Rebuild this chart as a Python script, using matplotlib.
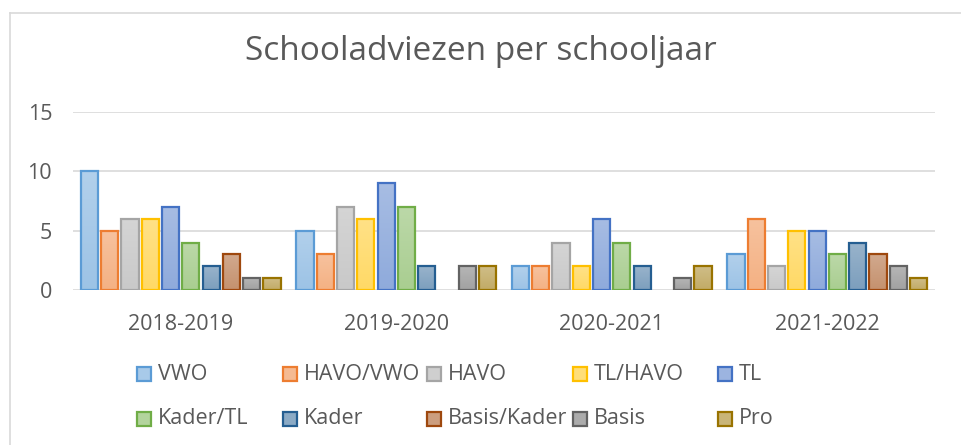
import numpy as np
import matplotlib.pyplot as plt
from matplotlib.colors import to_rgb
from matplotlib.lines import Line2D
from matplotlib.patches import Rectangle

plt.rcParams['font.family'] = ['Open Sans', 'DejaVu Sans']

jaren = ['2018-2019', '2019-2020', '2020-2021', '2021-2022']
adviezen = ['VWO', 'HAVO/VWO', 'HAVO', 'TL/HAVO', 'TL',
            'Kader/TL', 'Kader', 'Basis/Kader', 'Basis', 'Pro']

vwo = [10, 5, 2, 3]
havo_vwo = [5, 3, 2, 6]
havo = [6, 7, 4, 2]
tl_havo = [6, 6, 2, 5]
tl = [7, 9, 6, 5]
kader_tl = [4, 7, 4, 3]
kader = [2, 2, 2, 4]
basis_kader = [3, 0, 0, 3]
basis = [1, 2, 1, 2]
pro = [1, 2, 2, 1]
reeksen = [vwo, havo_vwo, havo, tl_havo, tl, kader_tl, kader, basis_kader, basis, pro]

randkleur = ['#5B9BD5', '#ED7D31', '#A5A5A5', '#FFC000', '#4472C4',
             '#70AD47', '#255E91', '#9E480E', '#636363', '#997300']

tekst = '#595959'


def meng(kleur, a):
    # mix a colour with white, a = share of white
    r = np.array(to_rgb(kleur))
    return r * (1 - a) + a


fig = plt.figure(figsize=(9.61, 4.45), dpi=100)
W, H = 961, 445
# chart border (only top and left fall inside the picture)
fig.add_artist(Line2D([10 / W, 10 / W], [0, 1 - 13 / H], transform=fig.transFigure,
                      color='#D9D9D9', linewidth=1.2))
fig.add_artist(Line2D([10 / W, 1], [1 - 13 / H, 1 - 13 / H], transform=fig.transFigure,
                      color='#D9D9D9', linewidth=1.2))

ax = fig.add_axes([73 / W, 1 - 290 / H, 862 / W, 178 / H])

x = np.arange(len(jaren))
n = len(reeksen)
stap = 0.094
breedte = 0.080
for i, (waarden, rk) in enumerate(zip(reeksen, randkleur)):
    pos = x + (i - (n - 1) / 2) * stap
    for p, v in zip(pos, waarden):
        if v == 0:
            continue
        rect = ax.bar(p, v, width=breedte, facecolor='none', edgecolor=rk,
                      linewidth=1.6, zorder=3)[0]
        grad = np.linspace(0, 1, 64)[:, None, None]
        onder, boven = meng(rk, 0.40), meng(rk, 0.53)
        img = onder + (boven - onder) * grad
        ax.imshow(img, extent=[p - breedte / 2, p + breedte / 2, 0, v], origin='lower',
                  aspect='auto', zorder=2.5, clip_path=rect, interpolation='bilinear')

ax.set_xlim(-0.5, len(jaren) - 0.5)
ax.set_ylim(0, 15)
ax.set_aspect('auto')
ax.set_yticks([0, 5, 10, 15])
ax.set_xticks(x)
ax.set_xticklabels(jaren)
ax.yaxis.grid(True, color='#D9D9D9', linewidth=1.2, zorder=0)
for s in ax.spines.values():
    s.set_visible(False)
ax.tick_params(axis='both', length=0, colors=tekst, labelsize=15.5)
ax.tick_params(axis='y', pad=15)
ax.tick_params(axis='x', pad=17)

fig.text(0.5, 1 - 60 / H, 'Schooladviezen per schooljaar', ha='center', va='baseline',
         fontsize=24, color=tekst)

# legend, 5 columns x 2 rows
kol_x = [137, 283, 427, 573, 718]
rij_y = [374, 419]
vak = 14
for k, naam in enumerate(adviezen):
    rij, kol = divmod(k, 5)
    hx, hy = kol_x[kol], rij_y[rij]
    rk = randkleur[k]
    fig.patches.append(Rectangle((hx / W, 1 - (hy + vak / 2) / H), vak / W, vak / H,
                                 transform=fig.transFigure, facecolor=meng(rk, 0.47),
                                 edgecolor=rk, linewidth=1.6))
    fig.text((hx + vak + 7) / W, 1 - hy / H, naam, ha='left', va='center',
             fontsize=15.5, color=tekst)

fig.savefig('out.png', dpi=100)
